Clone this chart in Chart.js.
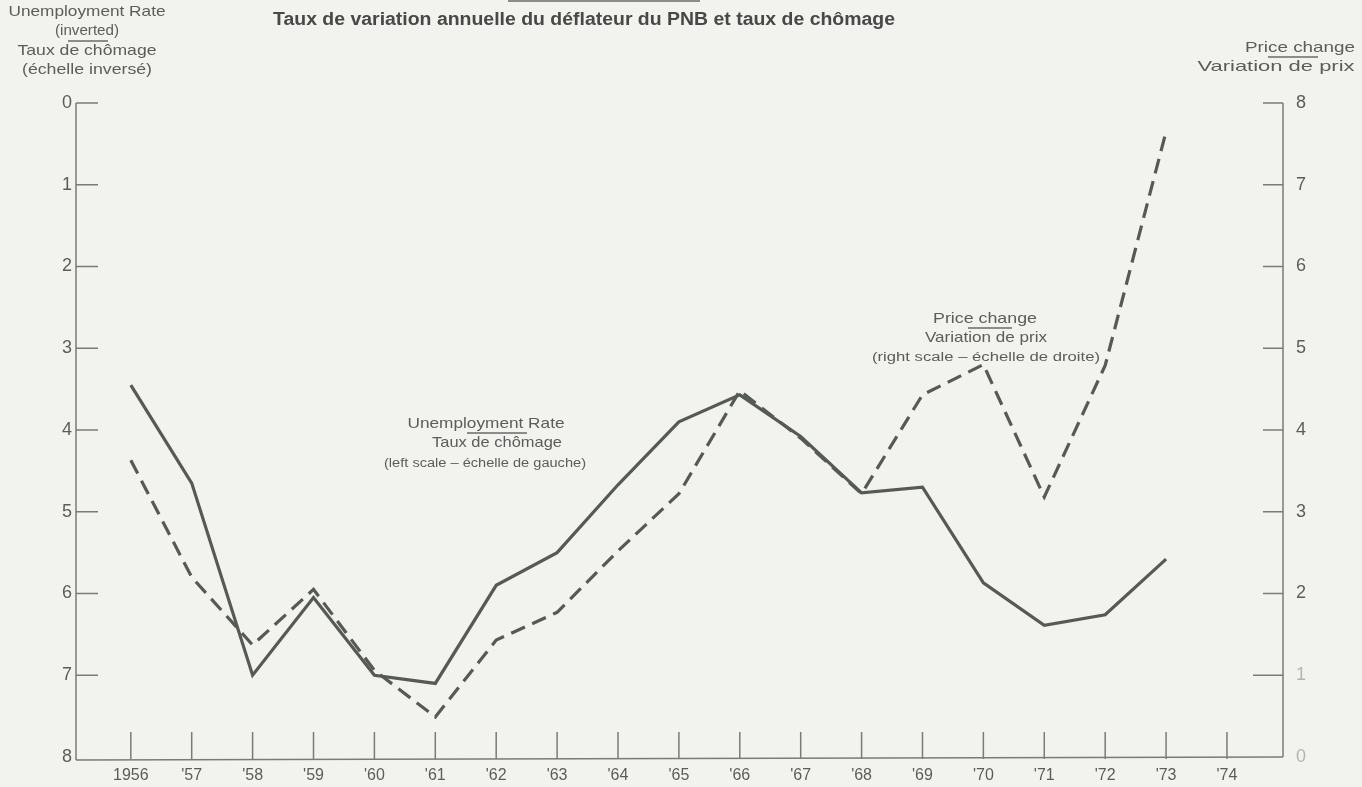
<!DOCTYPE html>
<html>
<head>
<meta charset="utf-8">
<script src="https://cdn.jsdelivr.net/npm/chart.js@4/dist/chart.umd.min.js"></script>
<style>
  html, body { margin: 0; padding: 0; background: #f2f2ee; }
  #wrap { width: 1362px; height: 787px; position: relative; }
</style>
</head>
<body>
<div id="wrap"><canvas id="c" width="1362" height="787"></canvas></div>
<script>
// ---- data ----
const years = [1956, 1957, 1958, 1959, 1960, 1961, 1962, 1963, 1964, 1965, 1966, 1967, 1968, 1969, 1970, 1971, 1972, 1973];
const unemploymentRate = [3.45, 4.65, 7.0, 6.05, 7.0, 7.1, 5.9, 5.5, 4.67, 3.9, 3.57, 4.08, 4.77, 4.7, 5.87, 6.39, 6.26, 5.58];
const priceChange = [3.63, 2.2, 1.37, 2.05, 1.06, 0.49, 1.43, 1.77, 2.52, 3.22, 4.48, 3.9, 3.22, 4.43, 4.8, 3.18, 4.79, 7.65];
const yearTicks = [1956, 1957, 1958, 1959, 1960, 1961, 1962, 1963, 1964, 1965, 1966, 1967, 1968, 1969, 1970, 1971, 1972, 1973, 1974];
const yearLabels = ["1956", "'57", "'58", "'59", "'60", "'61", "'62", "'63", "'64", "'65", "'66", "'67", "'68", "'69", "'70", "'71", "'72", "'73", "'74"];
const leftTicks = [0, 1, 2, 3, 4, 5, 6, 7, 8];
const rightTicks = [0, 1, 2, 3, 4, 5, 6, 7, 8];

const INK = '#555a55';
const TXT = '#5c5c5c';
const FONT = "'Liberation Sans', Arial, sans-serif";

const bgPlugin = {
  id: 'bg',
  beforeDraw(chart) {
    const ctx = chart.ctx;
    ctx.save();
    ctx.fillStyle = '#f2f2ee';
    ctx.fillRect(0, 0, chart.width, chart.height);
    ctx.restore();
  }
};

const axesPlugin = {
  id: 'axesDraw',
  beforeDatasetsDraw(chart) {
    const ctx = chart.ctx;
    const a = chart.chartArea;
    const yl = chart.scales.yL, yr = chart.scales.yR, x = chart.scales.x;
    ctx.save();
    ctx.strokeStyle = '#7a7a78';
    ctx.lineWidth = 1.5;
    // left axis
    ctx.beginPath();
    ctx.moveTo(a.left, yl.getPixelForValue(0));
    ctx.lineTo(a.left, a.bottom + 3);
    ctx.stroke();
    leftTicks.forEach(v => {
      if (v === 8) return;
      const py = yl.getPixelForValue(v);
      ctx.beginPath(); ctx.moveTo(a.left, py); ctx.lineTo(a.left + 22, py); ctx.stroke();
    });
    // right axis
    ctx.beginPath();
    ctx.moveTo(a.right, yr.getPixelForValue(8));
    ctx.lineTo(a.right, a.bottom);
    ctx.stroke();
    rightTicks.forEach(v => {
      if (v === 0) return;
      const py = yr.getPixelForValue(v);
      const len = v === 1 ? 30 : 20;
      ctx.beginPath(); ctx.moveTo(a.right - len, py); ctx.lineTo(a.right, py); ctx.stroke();
    });
    // bottom axis
    ctx.beginPath();
    ctx.moveTo(a.left, a.bottom + 3);
    ctx.lineTo(a.right, a.bottom);
    ctx.stroke();
    yearTicks.forEach(v => {
      const px = x.getPixelForValue(v);
      ctx.beginPath(); ctx.moveTo(px, a.bottom + 2); ctx.lineTo(px, a.bottom - 25); ctx.stroke();
    });
    ctx.restore();
  },
  afterDraw(chart) {
    const ctx = chart.ctx;
    ctx.save();
    ctx.textBaseline = 'middle';
    ctx.textAlign = 'center';
    // draw text centred at cx, stretched horizontally to width w
    function fit(text, cx, cy, w) {
      const m = ctx.measureText(text).width;
      const sx = w / m;
      ctx.save();
      ctx.translate(cx, cy);
      ctx.scale(sx, 1);
      ctx.fillText(text, 0, 0);
      ctx.restore();
    }
    function line(x1, x2, y) {
      ctx.save();
      ctx.strokeStyle = '#6a6a6a';
      ctx.lineWidth = 1.3;
      ctx.beginPath(); ctx.moveTo(x1, y); ctx.lineTo(x2, y); ctx.stroke();
      ctx.restore();
    }
    // top cut-off underline
    line(508, 700, 1);
    // title
    ctx.fillStyle = '#484848';
    ctx.font = "bold 18px " + FONT;
    fit('Taux de variation annuelle du déflateur du PNB et taux de chômage', 584, 20, 622);
    // left header
    ctx.fillStyle = TXT;
    ctx.font = "15px " + FONT;
    fit('Unemployment Rate', 87, 12, 157);
    fit('(inverted)', 87, 31, 64);
    line(68, 108, 41);
    fit('Taux de chômage', 87, 51, 139);
    fit('(échelle inversé)', 87, 70, 130);
    // right header
    fit('Price change', 1300, 48, 110);
    line(1268, 1318, 57);
    fit('Variation de prix', 1276, 67, 157);
    // annotations
    ctx.font = "15px " + FONT;
    fit('Unemployment Rate', 486, 424, 157);
    line(467, 527, 433);
    fit('Taux de chômage', 497, 443, 130);
    ctx.font = "12px " + FONT;
    fit('(left scale – échelle de gauche)', 485, 464, 202);
    ctx.font = "15px " + FONT;
    fit('Price change', 985, 319, 104);
    line(968, 1012, 328);
    fit('Variation de prix', 986, 338, 122);
    ctx.font = "12px " + FONT;
    fit('(right scale – échelle de droite)', 986, 358, 228);
    ctx.restore();
  }
};

const ctx = document.getElementById('c').getContext('2d');
new Chart(ctx, {
  type: 'line',
  data: {
    datasets: [
      {
        label: 'Unemployment Rate / Taux de chômage',
        data: years.map((y, i) => ({ x: y, y: unemploymentRate[i] })),
        yAxisID: 'yL',
        borderColor: INK,
        borderWidth: 3.2,
        pointRadius: 0,
        tension: 0,
        borderJoinStyle: 'miter',
        fill: false
      },
      {
        label: 'Price change / Variation de prix',
        data: years.map((y, i) => ({ x: y, y: priceChange[i] })),
        yAxisID: 'yR',
        borderColor: INK,
        borderWidth: 3.2,
        borderDash: [15, 8],
        pointRadius: 0,
        tension: 0,
        fill: false
      }
    ]
  },
  options: {
    responsive: false,
    animation: false,
    events: [],
    layout: { padding: { top: 103, left: 0, right: 0, bottom: 0 } },
    plugins: { legend: { display: false }, tooltip: { enabled: false }, title: { display: false } },
    scales: {
      x: {
        type: 'linear',
        min: 1955.1,
        max: 1974.92,
        grid: { display: false, drawTicks: false },
        border: { display: false },
        afterBuildTicks(scale) { scale.ticks = yearTicks.map(v => ({ value: v })); },
        afterFit(scale) { scale.height = 30; },
        ticks: {
          autoSkip: false, maxRotation: 0, padding: 9,
          color: TXT, font: { family: FONT, size: 16 },
          callback: (v) => { const i = yearTicks.indexOf(v); return i >= 0 ? yearLabels[i] : ''; }
        }
      },
      yL: {
        position: 'left',
        reverse: true,
        min: 0, max: 8,
        grid: { display: false, drawTicks: false },
        border: { display: false },
        afterBuildTicks(scale) { scale.ticks = leftTicks.map(v => ({ value: v })); },
        afterFit(scale) { scale.width = 76; },
        ticks: { padding: 4, color: TXT, font: { family: FONT, size: 18 } }
      },
      yR: {
        position: 'right',
        min: 0, max: 8,
        grid: { display: false, drawTicks: false },
        border: { display: false },
        afterBuildTicks(scale) { scale.ticks = rightTicks.map(v => ({ value: v })); },
        afterFit(scale) { scale.width = 79; },
        ticks: {
          padding: 13,
          color: (c) => (c.tick && c.tick.value <= 1) ? '#b4b4b0' : TXT,
          font: { family: FONT, size: 18 }
        }
      }
    }
  },
  plugins: [bgPlugin, axesPlugin]
});
</script>
</body>
</html>
